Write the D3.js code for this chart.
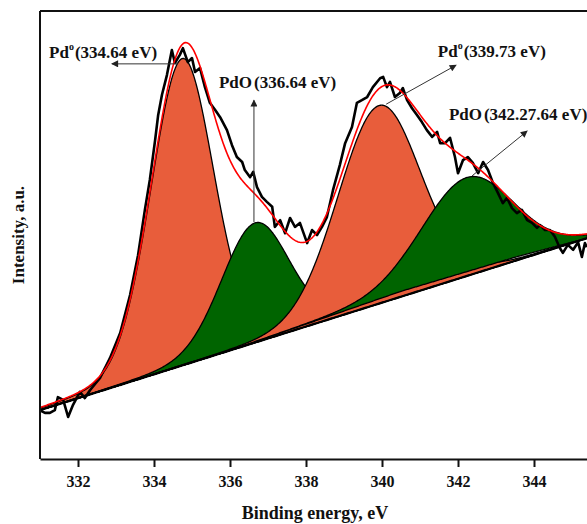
<!DOCTYPE html>
<html>
<head>
<meta charset="utf-8">
<script src="https://cdn.jsdelivr.net/npm/d3@7"></script>
<style>
body{margin:0;background:#fff}
svg{display:block}
</style>
</head>
<body>
<svg id="chart" width="587" height="524"></svg>
<script>
const energy = [331.00,331.13,331.26,331.39,331.47,331.61,331.74,331.87,332.05,332.18,332.32,332.58,332.84,333.11,333.37,333.58,333.76,333.89,334.03,334.11,334.21,334.34,334.47,334.55,334.68,334.76,334.89,335.00,335.08,335.21,335.34,335.47,335.61,335.74,335.92,336.05,336.18,336.32,336.39,336.53,336.61,336.71,336.84,336.97,337.11,337.18,337.32,337.45,337.58,337.71,337.84,338.03,338.16,338.29,338.42,338.55,338.71,338.89,339.03,339.21,339.34,339.47,339.61,339.76,339.95,340.03,340.13,340.21,340.34,340.47,340.55,340.66,340.79,340.92,341.05,341.18,341.32,341.45,341.53,341.66,341.79,341.92,342.00,342.13,342.26,342.39,342.53,342.66,342.79,342.92,343.05,343.18,343.29,343.42,343.55,343.68,343.82,343.95,344.08,344.16,344.29,344.42,344.55,344.68,344.76,344.89,345.03,345.16,345.26,345.34,345.39];
const counts = [10.9,10.3,10.3,10.9,13.8,13.2,9.4,12.1,15.0,13.6,15.4,18.1,22.5,28.1,36.6,45.5,55.6,62.3,71.2,76.8,81.3,85.7,91.3,88.4,90.2,91.7,88.6,89.5,86.4,87.3,83.0,79.5,77.9,76.3,73.4,70.1,67.4,66.3,64.5,62.9,64.1,60.7,58.5,57.4,56.3,51.8,53.3,50.4,53.8,51.8,52.7,48.2,51.1,50.0,51.8,54.0,60.0,65.6,70.5,74.1,79.5,80.1,80.8,83.0,85.0,85.3,83.0,84.2,80.8,81.7,82.8,80.1,78.3,76.8,75.2,73.4,71.9,73.0,70.5,70.5,71.7,67.4,63.8,66.7,67.4,66.1,63.8,66.3,64.5,61.6,59.4,57.1,58.3,56.0,54.9,55.6,53.3,52.7,51.6,52.2,51.1,51.1,49.6,47.1,46.0,47.8,46.7,48.4,45.1,48.2,47.3];

// fitted components
const peakCenter = [334.74, 336.66, 339.92, 342.24];
const peakHeight = [68.5, 26.7, 44.2, 21.0];
const peakFwhm = [1.95, 2.1, 2.55, 2.8];
const peakLorentz = [0.1, 0.1, 0.05, 0.05];
const peakColor = ["#e85d3b", "#006400", "#e85d3b", "#006400"];

// linear background: intensity at the two ends of the scan
const bgEnergy = [331, 345.4];
const bgLevel = [10.9, 49.3];
// small lift of the background used under the last PdO component
const liftEnergy = [331, 336, 340.5, 343.5, 345.4];
const liftLevel = [0, 0, 1.2, 0.8, 0];

const xTicks = [332, 334, 336, 338, 340, 342, 344];

// annotations: text anchor (E, I), arrow tail and head (E, I)
const annText = ["(334.64 eV)", "(336.64 eV)", "(339.73 eV)", "(342.27.64 eV)"];
const annSpecies = ["Pd", "PdO", "Pd", "PdO"];
const annSup = ["o", "", "o", ""];
const annPos = [[331.24, 89.5], [335.71, 82.8], [341.47, 89.7], [341.76, 75.7]];
const annTail = [[334.63, 88.2], [336.63, 52.9], [340.11, 79.2], [342.37, 63.2]];
const annHead = [[332.89, 88.2], [336.63, 80.1], [341.95, 87.9], [343.82, 73.2]];

const FONT = "'Liberation Serif', 'Times New Roman', Times, Tinos, 'Nimbus Roman', 'Noto Serif', 'DejaVu Serif', FreeSerif, serif";

const svg = d3.select("#chart")
  .style("font-family", FONT).attr("font-weight", "bold");
const W = 587, H = 524;
const margin = {left: 40, top: 11, bottom: 65};

const x = d3.scaleLinear().domain([331, 346]).range([margin.left, 610]);
const y = d3.scaleLinear().domain([0, 100]).range([H - margin.bottom, margin.top]);

const bg = d3.scaleLinear().domain(bgEnergy).range(bgLevel);
const lift = d3.scaleLinear().domain(liftEnergy).range(liftLevel).clamp(true);

function peak(i, e) {
  let t = (e - peakCenter[i]) / peakFwhm[i];
  let g = Math.exp(-4 * Math.LN2 * t * t);
  let l = 1 / (1 + 4 * t * t);
  return peakHeight[i] * ((1 - peakLorentz[i]) * g + peakLorentz[i] * l);
}

const grid = d3.range(331, 345.401, 0.02);

svg.append("clipPath").attr("id", "clip")
  .append("rect").attr("x", margin.left).attr("y", margin.top)
  .attr("width", W - margin.left).attr("height", H - margin.bottom - margin.top);

const plot = svg.append("g").attr("clip-path", "url(#clip)");

// components
peakCenter.forEach((c, i) => {
  let base = e => bg(e) + (i == 3 ? lift(e) : 0);
  let area = d3.area()
    .x(e => x(e))
    .y0(e => y(base(e)))
    .y1(e => y(base(e) + peak(i, e)));
  plot.append("path")
    .datum(grid)
    .attr("d", area)
    .attr("fill", peakColor[i])
    .attr("stroke", "#000")
    .attr("stroke-width", 1.3);
});

// background line
plot.append("path")
  .datum(grid)
  .attr("d", d3.line().x(e => x(e)).y(e => y(bg(e))))
  .attr("fill", "none").attr("stroke", "#000").attr("stroke-width", 2.2);

// raw data
plot.append("path")
  .datum(d3.zip(energy, counts))
  .attr("d", d3.line().x(d => x(d[0])).y(d => y(d[1])))
  .attr("fill", "none").attr("stroke", "#000").attr("stroke-width", 2.6)
  .attr("stroke-linejoin", "round");

// envelope
plot.append("path")
  .datum(grid)
  .attr("d", d3.line().x(e => x(e))
    .y(e => y(bg(e) + d3.sum(peakCenter, (c, i) => peak(i, e)))))
  .attr("fill", "none").attr("stroke", "#ff0000").attr("stroke-width", 1.6);

// arrows
svg.append("defs").append("marker")
  .attr("id", "arr").attr("viewBox", "0 0 10 10")
  .attr("refX", 9).attr("refY", 5)
  .attr("markerWidth", 9).attr("markerHeight", 7)
  .attr("markerUnits", "userSpaceOnUse")
  .attr("orient", "auto")
  .append("path").attr("d", "M0,0L10,5L0,10Z").attr("fill", "#222");

annTail.forEach((t, i) => {
  svg.append("line")
    .attr("x1", x(t[0])).attr("y1", y(t[1]))
    .attr("x2", x(annHead[i][0])).attr("y2", y(annHead[i][1]))
    .attr("stroke", "#333").attr("stroke-width", 1)
    .attr("marker-end", "url(#arr)");
});

annPos.forEach((p, i) => {
  let t = svg.append("text")
    .attr("x", x(p[0])).attr("y", y(p[1]))
    .style("font-family", FONT)
    .attr("font-size", 17).attr("fill", "#111");
  t.append("tspan").text(annSpecies[i]);
  if (annSup[i]) {
    t.append("tspan").attr("font-size", 10).attr("dy", -8).text(annSup[i]);
    t.append("tspan").attr("dy", 8).attr("dx", 1).text(annText[i]);
  } else {
    t.append("tspan").attr("dx", 2).text(annText[i]);
  }
});

// axes and frame
let xAxis = svg.append("g")
  .attr("transform", `translate(0,${y(0)})`)
  .call(d3.axisBottom(x).tickValues(xTicks).tickSize(8).tickSizeOuter(0).tickPadding(9).tickFormat(d3.format("d")))
  .attr("font-size", 16);
xAxis.select(".domain").attr("stroke", "#111").attr("stroke-width", 2);
xAxis.selectAll(".tick line").attr("stroke", "#111").attr("stroke-width", 2);
xAxis.selectAll(".tick text").attr("fill", "#111").style("font-family", FONT);

svg.append("line")
  .attr("x1", margin.left).attr("x2", margin.left)
  .attr("y1", margin.top).attr("y2", y(0))
  .attr("stroke", "#111").attr("stroke-width", 2);
svg.append("line")
  .attr("x1", margin.left).attr("x2", W)
  .attr("y1", margin.top).attr("y2", margin.top)
  .attr("stroke", "#111").attr("stroke-width", 2);

svg.append("text")
  .attr("x", 315).attr("y", 519)
  .style("font-family", FONT)
  .attr("text-anchor", "middle").attr("font-size", 18).attr("fill", "#111")
  .text("Binding energy, eV");

svg.append("text")
  .attr("transform", "translate(24,235) rotate(-90)")
  .style("font-family", FONT)
  .attr("text-anchor", "middle").attr("font-size", 17).attr("fill", "#111")
  .text("Intensity, a.u.");
</script>
</body>
</html>
